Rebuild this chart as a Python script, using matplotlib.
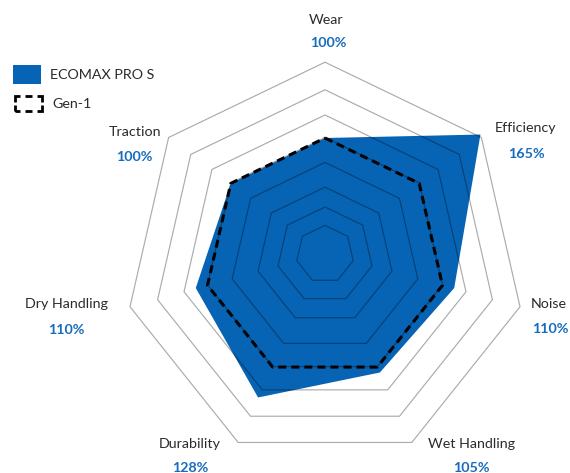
import numpy as np
import matplotlib
matplotlib.use("Agg")
import matplotlib.pyplot as plt
from matplotlib.patches import Rectangle, Polygon
from matplotlib.lines import Line2D

# ---------------- data ----------------
categories = ["Wear", "Efficiency", "Noise", "Wet Handling", "Durability", "Dry Handling", "Traction"]
ecomax_values = [100, 165, 110, 105, 128, 110, 100]
gen1_values = [100, 100, 100, 100, 100, 100, 100]
value_labels = ["100%", "165%", "110%", "105%", "128%", "110%", "100%"]
series_names = ["ECOMAX PRO S", "Gen-1"]
ring_levels = [24, 40, 57, 79, 100, 120, 142.5, 166]

# ---------------- layout / style ----------------
W, H = 570, 473
CX, CY = 325, 258.5          # chart centre in pixels (from top-left)
S = 1.205                    # pixels per percent
ring_shift = [3.5, 2.75, 2.2, 0.7, 0.4, -0.9, -2.5, -3.1]   # small vertical drift of grid rings

BLUE = "#0763B3"
VAL_COLOR = "#176cbf"
TXT_COLOR = "#2b2b2b"
FONT = ["Lato", "DejaVu Sans"]
FS = 10.3

plt.rcParams["font.family"] = FONT
plt.rcParams["lines.scale_dashes"] = False

fig = plt.figure(figsize=(W / 100, H / 100), dpi=100)
ax = fig.add_axes([0, 0, 1, 1])
ax.set_xlim(-CX / S, (W - CX) / S)
ax.set_ylim(-(H - CY) / S, CY / S)
ax.axis("off")

n = len(categories)
theta = np.deg2rad(90 - np.arange(n) * 360.0 / n)


def xy(vals, dy=0.0):
    v = np.asarray(vals, dtype=float)
    return np.column_stack([v * np.cos(theta), v * np.sin(theta) + dy])


# filled series
ax.add_patch(Polygon(xy(ecomax_values), closed=True, facecolor=BLUE, edgecolor="none", zorder=1))

# grid rings (drawn over the fill, semi transparent)
for lvl, sh in zip(ring_levels, ring_shift):
    ax.add_patch(Polygon(xy([lvl] * n, sh), closed=True, fill=False,
                         edgecolor="black", alpha=0.33, linewidth=0.85, zorder=2))

# dashed reference series
g = xy(gen1_values)
g = np.vstack([g, g[:1]])
ax.plot(g[:, 0], g[:, 1], color="black", linewidth=2.2,
        linestyle=(0, (5.8, 3.6)), dash_capstyle="butt", solid_joinstyle="miter", zorder=3)

# axis labels (pixel positions of label centres)
name_pos = [(326, 24.5), (526, 132.5), (549, 308), (472, 448), (190, 448), (66.7, 308), (134.7, 135.5)]
val_pos = [(328.5, 47.3), (526.7, 157.5), (550, 333.3), (471, 472.3), (190.3, 472.3), (66, 334), (134, 161)]

for name, (nx, ny), lab, (vx, vy) in zip(categories, name_pos, value_labels, val_pos):
    fig.text(nx / W, 1 - ny / H, name, ha="center", va="baseline",
             fontsize=FS, color=TXT_COLOR)
    fig.text(vx / W, 1 - vy / H, lab, ha="center", va="baseline",
             fontsize=FS, fontweight="bold", color=VAL_COLOR)

# legend
fig.add_artist(Rectangle((13 / W, 1 - 84 / H), 28 / W, 19 / H,
                         transform=fig.transFigure, facecolor=BLUE, edgecolor="none"))
fig.text(50 / W, 1 - 79 / H, series_names[0], ha="left", va="baseline",
         fontsize=FS, color=TXT_COLOR)

bx0, bx1, by0, by1 = 14.5, 41.5, 111.5, 96.5
px_to_pt = 0.72
box = Line2D([bx0 / W, bx1 / W, bx1 / W, bx0 / W, bx0 / W],
             [1 - by0 / H, 1 - by0 / H, 1 - by1 / H, 1 - by1 / H, 1 - by0 / H],
             transform=fig.transFigure, color="black", linewidth=2.0,
             linestyle=(6 * px_to_pt, tuple(np.array([11, 5, 7, 5, 11, 3]) * px_to_pt)),
             dash_capstyle="butt", dash_joinstyle="miter")
fig.add_artist(box)
fig.text(52 / W, 1 - 108 / H, series_names[1], ha="left", va="baseline",
         fontsize=FS, color=TXT_COLOR)

fig.savefig("out.png", dpi=100)
